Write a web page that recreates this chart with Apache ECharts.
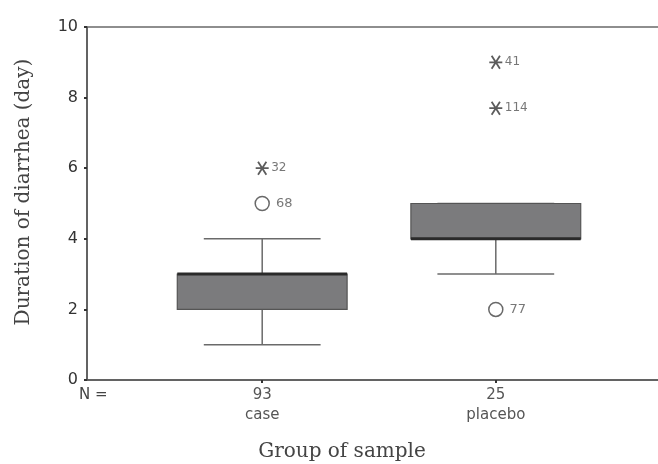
<!DOCTYPE html>
<html>
<head>
<meta charset="utf-8">
<script src="https://cdn.jsdelivr.net/npm/echarts@6/dist/echarts.min.js"></script>
<style>html,body{margin:0;padding:0;background:#fff;}#c{width:658px;height:464px;}</style>
</head>
<body>
<div id="c"></div>
<script>
// ---- data ----
var categories = ['case', 'placebo'];
var nCounts = [93, 25];
var whiskerLow = [1, 3];
var q1 = [2, 4];
var median = [3, 4];
var q3 = [3, 5];
var whiskerHigh = [4, 5];
// outliers (circles)
var outlierGroup = [0, 1];
var outlierValue = [5, 2];
var outlierId = ['68', '77'];
// extremes (asterisks)
var extremeGroup = [0, 1, 1];
var extremeValue = [6, 9, 7.7];
var extremeId = ['32', '41', '114'];
var yTicks = [0, 2, 4, 6, 8, 10];
var xTitle = 'Group of sample';
var yTitle = 'Duration of diarrhea (day)';

// ---- build ----
var boxData = categories.map(function (c, i) {
  return [i + 1, whiskerLow[i], q1[i], median[i], q3[i], whiskerHigh[i]];
});
var outData = outlierGroup.map(function (g, i) { return { value: [g + 1, outlierValue[i]], name: outlierId[i] }; });
var extData = extremeGroup.map(function (g, i) { return { value: [g + 1, extremeValue[i]], name: extremeId[i] }; });

var chart = echarts.init(document.getElementById('c'), null, { renderer: 'canvas' });

var starPath = 'path://M0,5 L10,5 M1.8,1.8 L8.2,8.2 M1.8,8.2 L8.2,1.8';
var sans = '"DejaVu Sans", Verdana, sans-serif';
var serif = '"DejaVu Serif", "Times New Roman", serif';

chart.setOption({
  backgroundColor: '#ffffff',
  animation: false,
  grid: {
    left: 87, top: 27, width: 584, height: 353,
    show: true, borderColor: '#6a6a6a', borderWidth: 1.5,
    outerBoundsMode: 'none', containLabel: false
  },
  xAxis: {
    type: 'value', min: 0.25, max: 2.75, interval: 0.25,
    axisLine: { show: true, lineStyle: { color: '#555', width: 1.5 } },
    axisTick: { show: true, customValues: [1, 2], length: 3, lineStyle: { color: '#333', width: 2 } },
    splitLine: { show: false },
    axisLabel: {
      customValues: [1, 2], margin: 5,
      fontFamily: sans, fontSize: 15, color: '#555', lineHeight: 20,
      formatter: function (v) {
        var i = Math.round(v) - 1;
        return nCounts[i] + '\n' + categories[i];
      }
    }
  },
  yAxis: {
    type: 'value', min: 0, max: 10, interval: 2,
    axisLine: { show: true, lineStyle: { color: '#555', width: 1.5 } },
    axisTick: { show: true, length: 3, lineStyle: { color: '#333', width: 2 } },
    splitLine: { show: false },
    axisLabel: {
      margin: 9, fontFamily: sans, fontSize: 16, color: '#333',
      formatter: function (v) { return yTicks.indexOf(v) >= 0 ? String(v) : ''; }
    }
  },
  graphic: [
    { type: 'text', x: 79, y: 395, style: { text: 'N =', font: '15px ' + sans, fill: '#444', textVerticalAlign: 'middle' } },
    { type: 'text', x: 342, y: 452, style: { text: xTitle, font: '20px ' + serif, fill: '#444', textAlign: 'center', textVerticalAlign: 'middle' } },
    { type: 'text', x: 24, y: 192, rotation: Math.PI / 2, style: { text: yTitle, font: '20px ' + serif, fill: '#444', textAlign: 'center', textVerticalAlign: 'middle' } }
  ],
  series: [
    {
      type: 'custom',
      data: boxData,
      encode: { x: 0, y: [1, 2, 3, 4, 5] },
      renderItem: function (params, api) {
        var x = api.value(0);
        var pLow = api.coord([x, api.value(1)]);
        var pQ1 = api.coord([x, api.value(2)]);
        var pMed = api.coord([x, api.value(3)]);
        var pQ3 = api.coord([x, api.value(4)]);
        var pHigh = api.coord([x, api.value(5)]);
        var boxW = api.size([0.727, 0])[0];
        var capW = api.size([0.5, 0])[0];
        var cx = pQ1[0];
        var wStyle = { stroke: '#6a6a6a', lineWidth: 1.5 };
        return {
          type: 'group',
          children: [
            { type: 'line', shape: { x1: cx, y1: pLow[1], x2: cx, y2: pQ1[1] }, style: wStyle },
            { type: 'line', shape: { x1: cx, y1: pQ3[1], x2: cx, y2: pHigh[1] }, style: wStyle },
            { type: 'line', shape: { x1: cx - capW / 2, y1: pLow[1], x2: cx + capW / 2, y2: pLow[1] }, style: wStyle },
            { type: 'line', shape: { x1: cx - capW / 2, y1: pHigh[1], x2: cx + capW / 2, y2: pHigh[1] }, style: wStyle },
            { type: 'rect', shape: { x: cx - boxW / 2, y: pQ3[1], width: boxW, height: pQ1[1] - pQ3[1] },
              style: { fill: '#7b7b7d', stroke: '#555', lineWidth: 1.2 } },
            { type: 'line', shape: { x1: cx - boxW / 2, y1: pMed[1], x2: cx + boxW / 2, y2: pMed[1] },
              style: { stroke: '#2a2a2a', lineWidth: 3 } }
          ]
        };
      }
    },
    {
      type: 'scatter',
      data: outData,
      symbol: 'circle', symbolSize: 14,
      itemStyle: { color: '#fff', borderColor: '#444', borderWidth: 1.5 },
      label: { show: true, position: 'right', distance: 6, formatter: '{b}',
        fontFamily: sans, fontSize: 13, color: '#555' }
    },
    {
      type: 'scatter',
      data: extData,
      symbol: starPath, symbolSize: 13,
      itemStyle: { color: 'none', borderColor: '#333', borderWidth: 1.8 },
      label: { show: true, position: 'right', distance: 0, formatter: '{b}',
        fontFamily: sans, fontSize: 12, color: '#555' }
    }
  ]
});
</script>
</body>
</html>
